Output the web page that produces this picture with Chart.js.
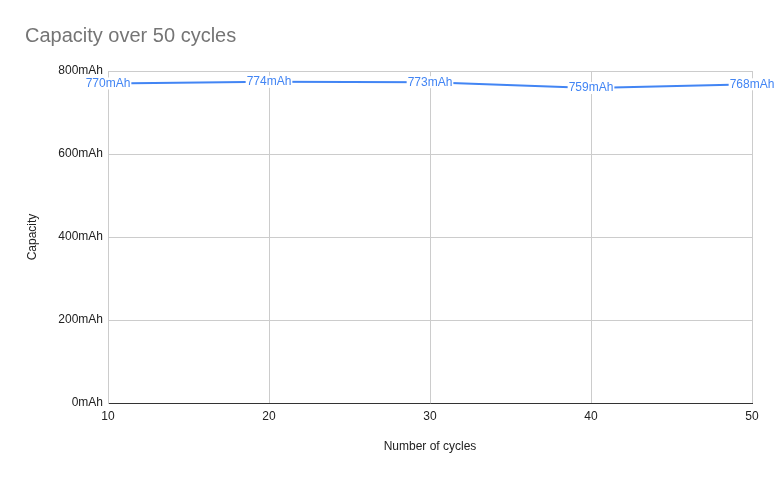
<!DOCTYPE html>
<html>
<head>
<meta charset="utf-8">
<script src="https://cdn.jsdelivr.net/npm/chart.js@4"></script>
<style>
  html, body { margin: 0; padding: 0; background: #fff; }
  #wrap { width: 775px; height: 480px; }
</style>
</head>
<body>
<div id="wrap"><canvas id="capChart"></canvas></div>
<script>
const cycles = [10, 20, 30, 40, 50];
const capacity = [770, 774, 773, 759, 768];
const xTicks = [10, 20, 30, 40, 50];
const yTicks = [0, 200, 400, 600, 800];

const FONT = "'Liberation Sans', Arial, sans-serif";

// labels with white background drawn on top of each point
const pointLabels = {
  id: "pointLabels",
  afterDatasetsDraw(chart) {
    const ctx = chart.ctx;
    const meta = chart.getDatasetMeta(0);
    ctx.save();
    ctx.font = "12px " + FONT;
    ctx.textAlign = "center";
    ctx.textBaseline = "middle";
    meta.data.forEach((pt, i) => {
      const txt = capacity[i] + "mAh";
      const w = ctx.measureText(txt).width;
      ctx.fillStyle = "#ffffff";
      ctx.fillRect(pt.x - w / 2 - 1, pt.y - 6, w + 2, 12);
      ctx.fillStyle = "#4285f4";
      ctx.fillText(txt, pt.x, pt.y);
    });
    ctx.restore();
  }
};

new Chart(document.getElementById("capChart"), {
  type: "line",
  data: {
    datasets: [{
      label: "Capacity",
      data: cycles.map((c, i) => ({ x: c, y: capacity[i] })),
      borderColor: "#4285f4",
      backgroundColor: "#4285f4",
      borderWidth: 2,
      pointRadius: 0,
      tension: 0
    }]
  },
  options: {
    responsive: true,
    maintainAspectRatio: false,
    animation: false,
    layout: { padding: { left: 25, right: 23, top: 0, bottom: 0 } },
    plugins: {
      legend: { display: false },
      tooltip: { enabled: false },
      title: {
        display: true,
        text: "Capacity over 50 cycles",
        align: "start",
        color: "#757575",
        font: { family: FONT, size: 20, weight: "normal" },
        padding: { top: 24, bottom: 23 }
      }
    },
    scales: {
      x: {
        type: "linear",
        min: 10,
        max: 50,
        afterBuildTicks: (s) => { s.ticks = xTicks.map(v => ({ value: v })); },
        afterFit: (s) => { s.height = 77; },
        grid: { color: "#cccccc", drawTicks: false },
        border: { color: "#333333", width: 1 },
        ticks: { color: "#222222", padding: 6, font: { family: FONT, size: 12 } },
        title: {
          display: true,
          text: "Number of cycles",
          color: "#222222",
          font: { family: FONT, size: 12 },
          padding: { top: 4, bottom: 26 }
        }
      },
      y: {
        min: 0,
        max: 800,
        afterBuildTicks: (s) => { s.ticks = yTicks.map(v => ({ value: v })); },
        afterFit: (s) => { s.width = 83; },
        grid: { color: "#cccccc", drawTicks: false },
        border: { color: "#cccccc", width: 1 },
        ticks: {
          color: "#222222",
          padding: 5,
          font: { family: FONT, size: 12 },
          callback: (v) => v + "mAh"
        },
        title: {
          display: true,
          text: "Capacity",
          color: "#222222",
          font: { family: FONT, size: 12 },
          padding: 0
        }
      }
    }
  },
  plugins: [pointLabels]
});
</script>
</body>
</html>
